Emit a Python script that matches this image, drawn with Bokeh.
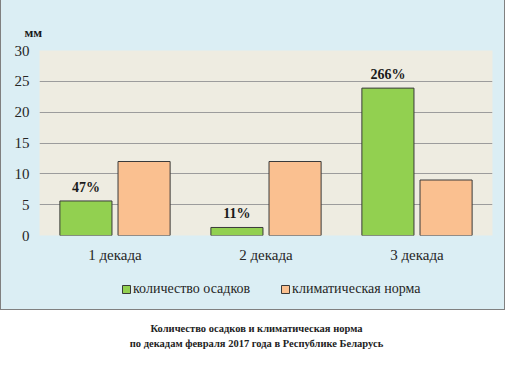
from bokeh.plotting import figure
from bokeh.models import FactorRange, Legend, LegendItem, Div, ColumnDataSource
from bokeh.transform import dodge
from bokeh.layouts import column
from bokeh.core.properties import value
from bokeh.embed import file_html
from bokeh.resources import INLINE

categories = ["1 декада", "2 декада", "3 декада"]
precip = [5.6, 1.3, 23.9]
norm = [12.0, 12.0, 9.0]
pct_labels = ["47%", "11%", "266%"]
y_ticks = [0, 5, 10, 15, 20, 25, 30]
series_names = ["количество осадков", "климатическая норма"]
unit = "мм"
caption_lines = ["Количество осадков и климатическая норма",
                 "по декадам февраля 2017 года в Республике Беларусь"]

SERIF = "Liberation Serif"
GREEN = "#92D050"
ORANGE = "#FAC090"
EDGE = "#3A3A3A"
BLUE = "#DBEEF4"

src = ColumnDataSource(dict(cat=categories, precip=precip, norm=norm, pct=pct_labels))

OFF = 0.1925
W = 0.345

# ---- main chart ----
p = figure(x_range=FactorRange(factors=categories, range_padding=0), y_range=(0, 30),
           width=503, height=265, output_backend="svg", toolbar_location=None,
           min_border_left=38, min_border_right=12, min_border_top=50, min_border_bottom=30)
p.background_fill_color = "#EEECE1"
p.border_fill_color = BLUE
p.outline_line_color = None

p.title.text = unit
p.title.align = "left"
p.title.vertical_align = "top"
p.title.offset = -15
p.title.standoff = 18
p.title.text_font = SERIF
p.title.text_font_style = "bold"
p.title.text_font_size = "13px"
p.title.text_color = "#1A1A1A"

p.vbar(x=dodge("cat", -OFF, range=p.x_range), top="precip", width=W, source=src,
       fill_color=GREEN, line_color=EDGE, line_width=1)
p.vbar(x=dodge("cat", OFF, range=p.x_range), top="norm", width=W, source=src,
       fill_color=ORANGE, line_color=EDGE, line_width=1)

p.text(x=dodge("cat", -OFF, range=p.x_range), y="precip", text="pct", source=src,
       text_align="center", text_baseline="bottom", y_offset=-6,
       text_font=value(SERIF), text_font_style="bold", text_font_size="14px",
       text_color="#1A1A1A")

p.xgrid.grid_line_color = None
p.ygrid.ticker = y_ticks
p.ygrid.grid_line_color = "#9C9C9C"

p.yaxis.ticker = y_ticks
p.yaxis.axis_line_color = None
p.yaxis.major_tick_line_color = None
p.yaxis.minor_tick_line_color = None
p.yaxis.major_tick_out = 0
p.yaxis.major_label_text_font = SERIF
p.yaxis.major_label_text_font_size = "15px"
p.yaxis.major_label_text_color = "#262626"
p.yaxis.major_label_standoff = 10

p.xaxis.axis_line_color = None
p.xaxis.major_tick_line_color = None
p.xaxis.major_tick_out = 0
p.xaxis.major_label_text_font = SERIF
p.xaxis.major_label_text_font_size = "15px"
p.xaxis.major_label_text_color = "#262626"
p.xaxis.major_label_standoff = 11

# ---- legend strip (same blue box) ----
pl = figure(width=503, height=44, output_backend="svg", toolbar_location=None,
            x_range=FactorRange(factors=categories, range_padding=0), y_range=(0, 1),
            x_axis_location=None, y_axis_location=None, min_border=0)
pl.background_fill_color = BLUE
pl.border_fill_color = BLUE
pl.outline_line_color = None
pl.grid.visible = False
g1 = pl.vbar(x=dodge("cat", -OFF, range=pl.x_range), top="precip", width=W, source=src,
             fill_color=GREEN, line_color=EDGE, line_width=1, visible=False)
g2 = pl.vbar(x=dodge("cat", OFF, range=pl.x_range), top="norm", width=W, source=src,
             fill_color=ORANGE, line_color=EDGE, line_width=1, visible=False)

legend = Legend(items=[LegendItem(label=series_names[0], renderers=[g1]),
                       LegendItem(label=series_names[1], renderers=[g2])],
                orientation="horizontal", location=(82, 12),
                label_text_font=SERIF, label_text_font_size="14px", label_text_color="#262626",
                glyph_width=10, glyph_height=10, label_standoff=2, spacing=30,
                inactive_fill_alpha=0,
                background_fill_alpha=0, border_line_color=None, padding=0, margin=0)
pl.add_layout(legend, "center")

box = column(p, pl, spacing=0,
             styles={"border-left": "1px solid #808080", "border-right": "1px solid #808080",
                     "border-bottom": "1px solid #808080", "background-color": BLUE})

cap_html = "".join('<div style="line-height:15px;height:15px">%s</div>' % t for t in caption_lines)
cap = Div(text=cap_html, width=503,
          styles={"text-align": "center", "width": "503px",
                  "font-family": "'Liberation Serif', serif", "font-weight": "bold",
                  "font-size": "10.5px", "line-height": "15px", "color": "#222222",
                  "padding-top": "6px"})

layout = column(box, cap, spacing=0)
open("out.html", "w").write(file_html(layout, INLINE))
